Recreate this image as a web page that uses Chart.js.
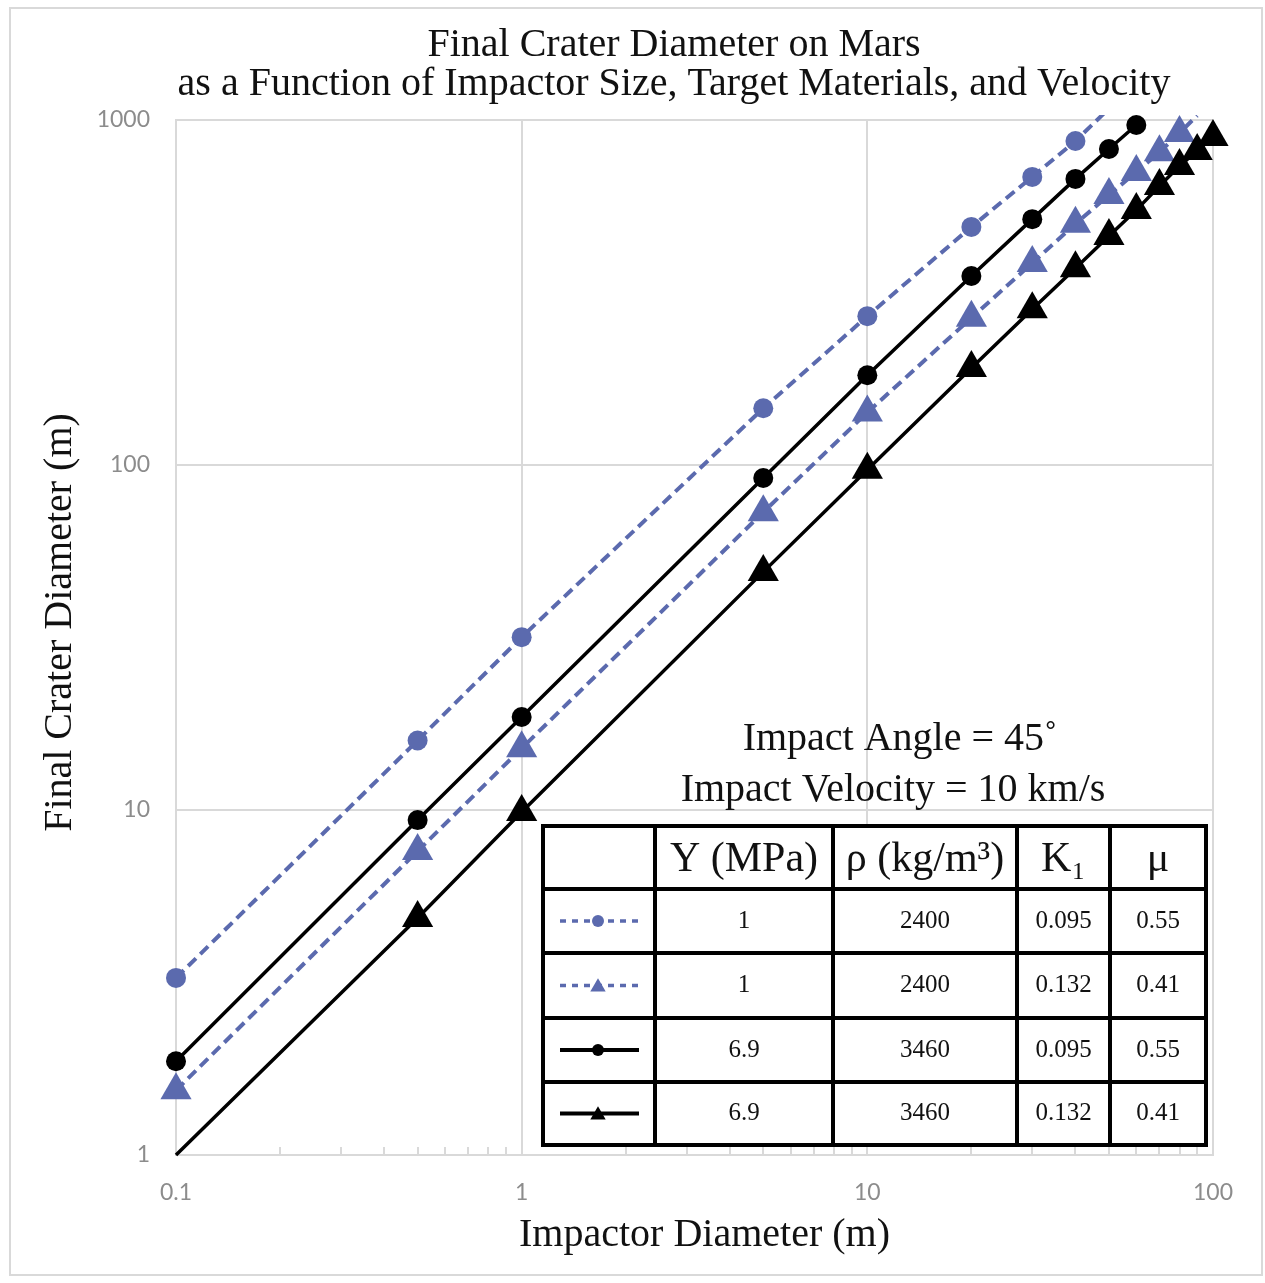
<!DOCTYPE html>
<html>
<head>
<meta charset="utf-8">
<script src="https://cdn.jsdelivr.net/npm/chart.js@4/dist/chart.umd.min.js"></script>
<style>
  body { margin: 0; background: #fff; overflow: hidden; }
  #wrap { position: relative; width: 1265px; height: 1283px; }
  #frame { position: absolute; left: 9px; top: 7px; width: 1254px; height: 1269px; border: 2px solid #d9d9d9; box-sizing: border-box; }
  canvas { position: absolute; left: 0; top: 0; }
</style>
</head>
<body>
<div id="wrap">
  <div id="frame"></div>
  <canvas id="crater-chart" width="1265" height="1283"></canvas>
</div>
<script>
// impactor diameters (m) shared by all series
const impactorDiameters = [0.1, 0.5, 1, 5, 10, 20, 30, 40, 50, 60, 70, 80, 90, 100];
// final crater diameters (m)
const weakK095 = [3.26, 15.9, 31.7, 146, 270, 490, 684, 869, 1080];
const weakK132 = [1.54, 7.6, 15.1, 73, 142, 267, 385, 500, 606, 707, 807, 917, 1030];
const strongK095 = [1.87, 9.35, 18.6, 91.7, 182, 353, 516, 675, 824, 967];
const strongK132 = [1.0, 4.86, 9.87, 49, 96.8, 191, 283, 372, 461, 548, 644, 736, 813, 893];

const xTicks = [0.1, 1, 10, 100];
const yTicks = [1, 10, 100, 1000];

const titleLines = ['Final Crater Diameter on Mars', 'as a Function of Impactor Size, Target Materials, and Velocity'];
const noteLines = ['Impact Angle = 45\u02DA', 'Impact Velocity = 10 km/s'];

// legend table
const tableHeader = ['', 'Y (MPa)', '\u03C1 (kg/m\u00B3)', 'K\u2081', '\u03BC'];
const tableStrength = ['1', '1', '6.9', '6.9'];
const tableDensity = ['2400', '2400', '3460', '3460'];
const tableK1 = ['0.095', '0.132', '0.095', '0.132'];
const tableMu = ['0.55', '0.41', '0.55', '0.41'];

const blue = '#5b6aae';
const black = '#000000';
const serif = "'Liberation Serif', 'Times New Roman', serif";

function pts(values) {
  return values.map((v, i) => ({ x: impactorDiameters[i], y: v }));
}

// minor tick positions on the x axis (2..9 in every decade)
const minorXTicks = [];
[0.1, 1, 10].forEach(d => { for (let k = 2; k <= 9; k++) minorXTicks.push(k * d); });

const legendStyles = [
  { color: blue, dash: [6, 6], marker: 'circle' },
  { color: blue, dash: [6, 6], marker: 'triangle' },
  { color: black, dash: [], marker: 'circle' },
  { color: black, dash: [], marker: 'triangle' }
];

function marker(ctx, style, x, y, r) {
  ctx.beginPath();
  if (style === 'circle') {
    ctx.arc(x, y, r, 0, Math.PI * 2);
  } else {
    ctx.moveTo(x, y - r * 1.05);
    ctx.lineTo(x + r * 1.1, y + r * 0.85);
    ctx.lineTo(x - r * 1.1, y + r * 0.85);
    ctx.closePath();
  }
  ctx.fill();
}

const decor = {
  id: 'decor',
  beforeDatasetsDraw(chart) {
    const { ctx, chartArea, scales } = chart;
    ctx.save();
    ctx.strokeStyle = '#d9d9d9';
    ctx.lineWidth = 2;
    minorXTicks.forEach(v => {
      const px = Math.round(scales.x.getPixelForValue(v));
      ctx.beginPath();
      ctx.moveTo(px, chartArea.bottom);
      ctx.lineTo(px, chartArea.bottom - 8);
      ctx.stroke();
    });
    ctx.restore();
  },
  afterDraw(chart) {
    const ctx = chart.ctx;
    ctx.save();
    ctx.fillStyle = '#111';
    ctx.textAlign = 'center';
    ctx.textBaseline = 'middle';

    // main title
    ctx.font = '40px ' + serif;
    ctx.fillText(titleLines[0], 674, 45);
    ctx.fillText(titleLines[1], 674, 84);

    // impact notes
    ctx.font = '40px ' + serif;
    ctx.fillText(noteLines[0], 900, 739);
    ctx.fillText(noteLines[1], 893, 790);

    // table
    const cols = [543, 655, 833, 1017, 1110, 1206];
    const rows = [826, 889, 953, 1018, 1082, 1145];
    ctx.fillStyle = '#fff';
    ctx.fillRect(cols[0], rows[0], cols[5] - cols[0], rows[5] - rows[0]);
    ctx.strokeStyle = '#000';
    ctx.lineWidth = 4;
    cols.forEach(cx => { ctx.beginPath(); ctx.moveTo(cx, rows[0] - 2); ctx.lineTo(cx, rows[5] + 2); ctx.stroke(); });
    rows.forEach(ry => { ctx.beginPath(); ctx.moveTo(cols[0] - 2, ry); ctx.lineTo(cols[5] + 2, ry); ctx.stroke(); });

    ctx.fillStyle = '#111';
    ctx.font = '42px ' + serif;
    const hy = (rows[0] + rows[1]) / 2 + 2;
    for (let c = 1; c < tableHeader.length; c++) {
      ctx.fillText(tableHeader[c], (cols[c] + cols[c + 1]) / 2, hy);
    }

    ctx.font = '25px ' + serif;
    const body = [tableStrength, tableDensity, tableK1, tableMu];
    for (let r = 0; r < 4; r++) {
      const cy = (rows[r + 1] + rows[r + 2]) / 2;
      body.forEach((col, c) => {
        ctx.fillText(col[r], (cols[c + 1] + cols[c + 2]) / 2, cy);
      });
      const s = legendStyles[r];
      ctx.strokeStyle = s.color;
      ctx.fillStyle = s.color;
      ctx.lineWidth = s.dash.length ? 3.5 : 4;
      ctx.setLineDash(s.dash);
      ctx.beginPath();
      ctx.moveTo(560, cy);
      ctx.lineTo(639, cy);
      ctx.stroke();
      ctx.setLineDash([]);
      marker(ctx, s.marker, 598, cy, s.marker === 'circle' ? 6 : 7);
      ctx.fillStyle = '#111';
    }
    ctx.restore();
  }
};

const tickFont = { family: 'Lato', size: 23 };
const clipBox = { left: 30, right: 30, top: 5, bottom: 30 };

new Chart(document.getElementById('crater-chart').getContext('2d'), {
  type: 'line',
  data: {
    datasets: [
      {
        label: 'Y=1 MPa, K1=0.095, mu=0.55',
        data: pts(weakK095),
        borderColor: blue, backgroundColor: blue,
        borderWidth: 4, borderDash: [11, 6],
        pointStyle: 'circle',
        pointRadius: weakK095.map(v => v > 1000 ? 0 : 10),
        pointBorderWidth: 0,
        clip: clipBox, order: 4
      },
      {
        label: 'Y=1 MPa, K1=0.132, mu=0.41',
        data: pts(weakK132),
        borderColor: blue, backgroundColor: blue,
        borderWidth: 4, borderDash: [11, 6],
        pointStyle: 'triangle',
        pointRadius: weakK132.map(v => v > 1000 ? 0 : 18),
        pointBorderWidth: 0,
        clip: clipBox, order: 3
      },
      {
        label: 'Y=6.9 MPa, K1=0.095, mu=0.55',
        data: pts(strongK095),
        borderColor: black, backgroundColor: black,
        borderWidth: 3.5,
        pointStyle: 'circle',
        pointRadius: 10,
        pointBorderWidth: 0,
        clip: clipBox, order: 2
      },
      {
        label: 'Y=6.9 MPa, K1=0.132, mu=0.41',
        data: pts(strongK132),
        borderColor: black, backgroundColor: black,
        borderWidth: 3.5,
        pointStyle: 'triangle',
        pointRadius: strongK132.map((v, i) => i === 0 ? 0 : 18),
        pointBorderWidth: 0,
        clip: clipBox, order: 1
      }
    ]
  },
  options: {
    responsive: false,
    animation: false,
    layout: { padding: { top: 120, right: 52, left: 0, bottom: 0 } },
    plugins: {
      legend: { display: false },
      title: { display: false },
      tooltip: { enabled: false }
    },
    scales: {
      x: {
        type: 'logarithmic',
        min: 0.1, max: 100,
        afterBuildTicks: s => { s.ticks = xTicks.map(v => ({ value: v })); },
        afterFit: s => { s.height = 128; },
        ticks: {
          font: tickFont, color: '#8c8c8c', padding: 24, maxRotation: 0, autoSkip: false,
          callback: v => String(v)
        },
        grid: { color: '#d9d9d9', lineWidth: 2, drawTicks: false },
        border: { color: '#d9d9d9', width: 2 },
        title: {
          display: true, text: '  Impactor Diameter (m)', color: '#111',
          font: { family: serif, size: 40 }, padding: { top: 0, bottom: 24 }
        }
      },
      y: {
        type: 'logarithmic',
        min: 1, max: 1000,
        afterBuildTicks: s => { s.ticks = yTicks.map(v => ({ value: v })); },
        afterFit: s => { s.width = 176; },
        ticks: {
          font: tickFont, color: '#8c8c8c', padding: 26, autoSkip: false,
          callback: v => String(v)
        },
        grid: { color: '#d9d9d9', lineWidth: 2, drawTicks: false },
        border: { color: '#d9d9d9', width: 2 },
        title: {
          display: true, text: '   Final Crater Diameter (m)', color: '#111',
          font: { family: serif, size: 40 }, padding: { top: 36, bottom: 0 }
        }
      }
    }
  },
  plugins: [decor]
});
</script>
</body>
</html>
